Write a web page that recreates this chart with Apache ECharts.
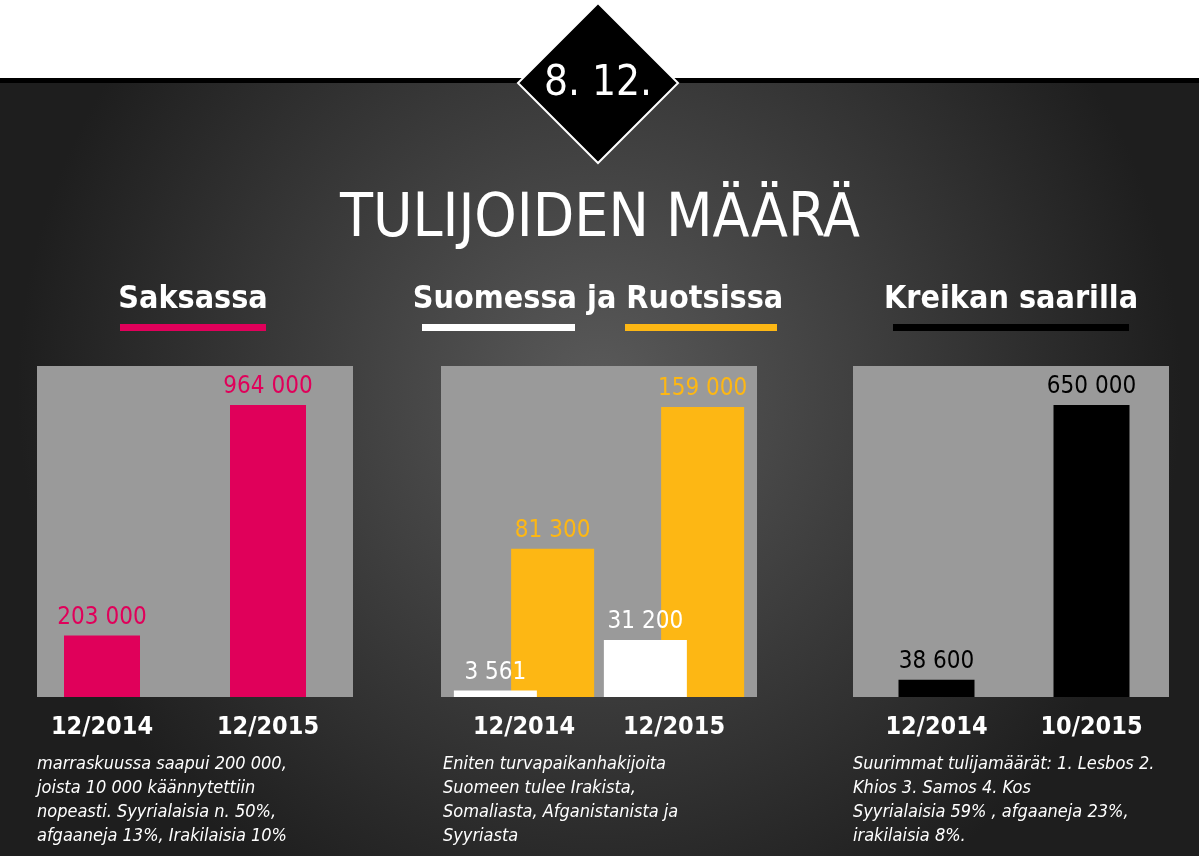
<!DOCTYPE html>
<html>
<head>
<meta charset="UTF-8" />
<script src="https://cdn.jsdelivr.net/npm/echarts@6/dist/echarts.min.js"></script>
<style>html,body{margin:0;height:100%;background:#fff}#c{width:1199px;height:856px}</style>
</head>
<body>
<div id="c"></div>
<script>
var font = "'Liberation Sans Narrow','DejaVu Sans Condensed',sans-serif";
// data
var deCats = ["12/2014", "12/2015"];
var deValues = [203000, 964000];
var fiseCats = ["12/2014", "12/2015"];
var fiValues = [3561, 31200];
var seValues = [81300, 159000];
var grCats = ["12/2014", "10/2015"];
var grValues = [38600, 650000];

var pink = "#e0005a", yellow = "#fdb714";
function fmt(v) { return String(v).replace(/\B(?=(\d{3})+(?!\d))/g, " "); }

function lbl(color) {
  return { show: true, position: "top", distance: 6, color: color, fontSize: 24, fontFamily: font, formatter: function (p) { return fmt(p.value); } };
}
function xa(idx, data) {
  return { gridIndex: idx, type: "category", data: data, axisLine: { show: false }, axisTick: { show: false },
    axisLabel: { color: "#fff", fontSize: 25, fontFamily: font, fontWeight: "bold", margin: 18 } };
}
function ya(idx, max) {
  return { gridIndex: idx, type: "value", min: 0, max: max, show: false, splitLine: { show: false } };
}
function txt(x, y, s, size, color, extra) {
  return { type: "text", left: x, top: y, style: Object.assign({ text: s, fill: color, font: size + "px " + font }, extra || {}) };
}
function notes(x, lines) {
  return { type: "text", left: x, top: 752, style: { text: lines.join("\n"), fill: "#fff", font: "italic 18px " + font, lineHeight: 24 } };
}

var chart = echarts.init(document.getElementById("c"));
chart.setOption({
  backgroundColor: "#fff",
  graphic: [
    { type: "rect", shape: { x: 0, y: 80, width: 1199, height: 776 }, z: -10,
      style: { fill: new echarts.graphic.RadialGradient(0.5, 0.4, 0.75, [{ offset: 0, color: "#5a5a5a" }, { offset: 1, color: "#1e1e1e" }]) } },
    { type: "rect", shape: { x: 0, y: 78, width: 1199, height: 5 }, z: -9, style: { fill: "#000" } },
    { type: "polygon", shape: { points: [[598, 3], [678, 83], [598, 163], [518, 83]] }, z: 5, style: { fill: "#000", stroke: "#fff", lineWidth: 2 } },
    { type: "text", x: 598, y: 84, z: 6, style: { text: "8. 12.", fill: "#fff", font: "42px " + font, align: "center", verticalAlign: "middle" } },
    { type: "text", x: 600, y: 220, style: { text: "TULIJOIDEN MÄÄRÄ", fill: "#fff", font: "300 60px " + font, align: "center", verticalAlign: "middle" } },
    { type: "text", x: 193, y: 300, style: { text: "Saksassa", fill: "#fff", font: "bold 32px " + font, align: "center", verticalAlign: "middle" } },
    { type: "text", x: 598, y: 300, style: { text: "Suomessa ja Ruotsissa", fill: "#fff", font: "bold 32px " + font, align: "center", verticalAlign: "middle" } },
    { type: "text", x: 1011, y: 300, style: { text: "Kreikan saarilla", fill: "#fff", font: "bold 32px " + font, align: "center", verticalAlign: "middle" } },
    { type: "rect", shape: { x: 120, y: 324, width: 146, height: 7 }, style: { fill: pink } },
    { type: "rect", shape: { x: 422, y: 324, width: 153, height: 7 }, style: { fill: "#fff" } },
    { type: "rect", shape: { x: 625, y: 324, width: 152, height: 7 }, style: { fill: yellow } },
    { type: "rect", shape: { x: 893, y: 324, width: 236, height: 7 }, style: { fill: "#000" } },
    { type: "rect", shape: { x: 37, y: 366, width: 316, height: 331 }, z: -5, style: { fill: "#9a9a9a" } },
    { type: "rect", shape: { x: 441, y: 366, width: 316, height: 331 }, z: -5, style: { fill: "#9a9a9a" } },
    { type: "rect", shape: { x: 853, y: 366, width: 316, height: 331 }, z: -5, style: { fill: "#9a9a9a" } },
    notes(37, ["marraskuussa saapui 200 000,", "joista 10 000 käännytettiin", "nopeasti. Syyrialaisia n. 50%,", "afgaaneja 13%, Irakilaisia 10%"]),
    notes(443, ["Eniten turvapaikanhakijoita", "Suomeen tulee Irakista,", "Somaliasta, Afganistanista ja", "Syyriasta"]),
    notes(853, ["Suurimmat tulijamäärät: 1. Lesbos 2.", "Khios 3. Samos 4. Kos", "Syyrialaisia 59% , afgaaneja 23%,", "irakilaisia 8%."])
  ],
  grid: [
    { left: 19, width: 332, top: 366, bottom: 159 },
    { left: 449, width: 300, top: 366, bottom: 159 },
    { left: 859, width: 310, top: 366, bottom: 159 }
  ],
  xAxis: [xa(0, deCats), xa(1, fiseCats), xa(2, grCats)],
  yAxis: [ya(0, 1093000), ya(1, 181500), ya(2, 737000)],
  series: [
    { type: "bar", xAxisIndex: 0, yAxisIndex: 0, data: deValues, barWidth: 76, itemStyle: { color: pink }, label: lbl(pink) },
    { type: "bar", xAxisIndex: 1, yAxisIndex: 1, data: fiValues, barWidth: 83, barGap: "-31%", z: 4, itemStyle: { color: "#fff" }, label: lbl("#fff") },
    { type: "bar", xAxisIndex: 1, yAxisIndex: 1, data: seValues, barWidth: 83, barGap: "-31%", z: 2, itemStyle: { color: yellow }, label: lbl(yellow) },
    { type: "bar", xAxisIndex: 2, yAxisIndex: 2, data: grValues, barWidth: 76, itemStyle: { color: "#000" }, label: lbl("#000") }
  ]
});
</script>
</body>
</html>
